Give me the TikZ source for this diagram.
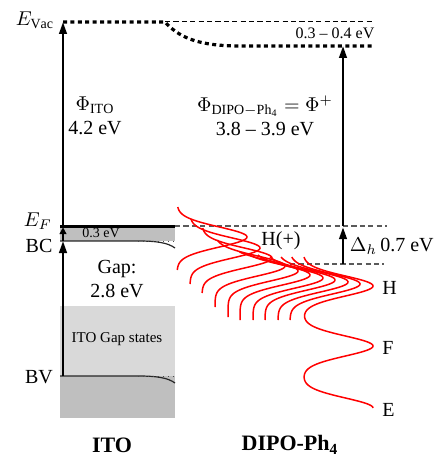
\documentclass[tikz,border=0pt]{standalone}
\usepackage{fontspec}
\setmainfont{Liberation Serif}
\usepackage{tikz}
\usetikzlibrary{arrows.meta,positioning}
\definecolor{bandgray}{HTML}{BFBFBF}
\definecolor{gapgray}{HTML}{D9D9D9}
\definecolor{lvlgray}{HTML}{5A5A5A}
\tikzset{
  arrow/.style    ={-{Triangle[length=6pt,width=3.8pt]},line width=1.2pt},
  shortarrow/.style={-{Triangle[length=3.5pt,width=3.4pt]},line width=1.2pt},
  vacline/.style  ={line width=1.6pt,dash pattern=on 2pt off 1.7pt},
  refline/.style  ={lvlgray,line width=0.6pt,dash pattern=on 2.6pt off 1.6pt},
  bandline/.style ={black!85,line width=0.6pt},
  bandfade/.style ={black!70,line width=0.5pt,dotted},
  dos/.style      ={red,line width=0.75pt},
  lbl/.style      ={font=\fontsize{10}{11}\selectfont,align=center,inner sep=0pt},
  small/.style    ={font=\fontsize{7}{8}\selectfont,align=center,inner sep=0pt},
  title/.style    ={font=\fontsize{11}{13}\selectfont\bfseries,inner sep=0pt}
}
\begin{document}
\begin{tikzpicture}[x=0.5pt,y=-0.5pt]
    \useasboundingbox (0,0) rectangle (436,464);
    \fill[bandgray] (60,376) rectangle (175,418);
    \fill[gapgray]  (60,306) rectangle (175,376);
    \fill[bandgray] (60,226) rectangle (175,241);
    \draw[bandline] (60,241) -- (138,241) .. controls (158,241) and (168,243) .. (175,248);
    \draw[bandfade] (138,241) -- (175,241);
    \draw[bandline] (60,376) -- (138,376) .. controls (158,376) and (168,378) .. (175,383);
    \draw[bandfade] (138,376) -- (175,376);
    \coordinate (itoBV)   at (63,376);
    \coordinate (itoBC)   at (63,241);
    \coordinate (itoEF)   at (63,226);
    \coordinate (itoVac)  at (63,22);
    \coordinate (dipoH)   at (343,264);
    \coordinate (dipoEF)  at (343,226);
    \coordinate (dipoVac) at (343,46);
    \draw[vacline] (itoVac) -- (165,22) .. controls (178,36) and (195,46) .. (240,46) -- (374,46);
    \draw[black,line width=0.5pt,dash pattern=on 2.6pt off 1.6pt] (165,22) -- (372,22);
    \draw[refline] (175,226) -- (387,226);
    \draw[refline] (290,264) -- (384,264);
    \draw[line width=1.5pt] (60,226) -- (175,226);
    \draw[arrow] (itoBV) -- (itoBC);
    \draw[shortarrow] (itoBC) -- ([yshift=-0.6pt]itoEF);
    \draw[arrow] (itoEF) -- (itoVac);
    \draw[arrow] (dipoH) -- ([yshift=-0.6pt]dipoEF);
    \draw[arrow] (dipoEF) -- (dipoVac);
    \foreach \xo/\yt/\yp/\yb in {177/207/237/270,190/219/248/284,202/228/258/293,215/240/266/307,
                                 228/252/271/317,240/255/275/320,253/255/278/320,265/257/280/320,
                                 278/257/282/320,290/257/284/320}
      \draw[dos] plot[variable=\t,domain=\yt:\yb,samples=90,smooth] ({\xo+70*exp(-0.5*((\t-\yp)/10)^2)},{\t});
    \draw[dos] plot[variable=\t,domain=257:408,samples=220,smooth]
      ({303+70*(exp(-0.5*((\t-286)/10)^2)+exp(-0.5*((\t-346)/10)^2)+exp(-0.5*((\t-408)/10)^2))},{\t});
    \node[lbl] (evac) at (35,20)  {$E_{\mathrm{Vac}}$};
    \node[lbl] (ef)   at (38,221) {$E_F$};
    \node[lbl] (bc)   at (39,246) {BC};
    \node[lbl] (bv)   at (39,377) {BV};
    \node[lbl] (phiito)  at (95,116)  {$\Phi_{\mathrm{ITO}}$\\[1pt]4.2 eV};
    \node[lbl] (phidipo) at (265,116) {$\Phi_{\mathrm{DIPO-Ph_4}} = \Phi^{+}$\\[1pt]3.8 -- 3.9 eV};
    \node[small,font=\fontsize{8}{9}\selectfont] (shift) at (335,33)  {0.3 -- 0.4 eV};
    \node[small] (efbc)  at (101,233) {0.3 eV};
    \node[lbl] (gap)    at (117,279) {Gap:\\[1pt]2.8 eV};
    \node[small,font=\fontsize{7.5}{9}\selectfont] (states) at (117,339) {ITO Gap states};
    \node[lbl] (hplus)  at (281,241) {H(+)};
    \node[lbl,anchor=east] (deltah) at (434,246) {$\Delta_h$\,0.7 eV};
    \node[lbl,anchor=west] (hlbl) at (382,288) {H};
    \node[lbl,anchor=west] (flbl) at (382,348) {F};
    \node[lbl,anchor=west] (elbl) at (382,410) {E};
    \node[title] (ito)  at (112,445) {ITO};
    \node[title] (dipo) at (290,445) {DIPO-Ph$_\mathbf{4}$};
  \end{tikzpicture}
\end{document}
